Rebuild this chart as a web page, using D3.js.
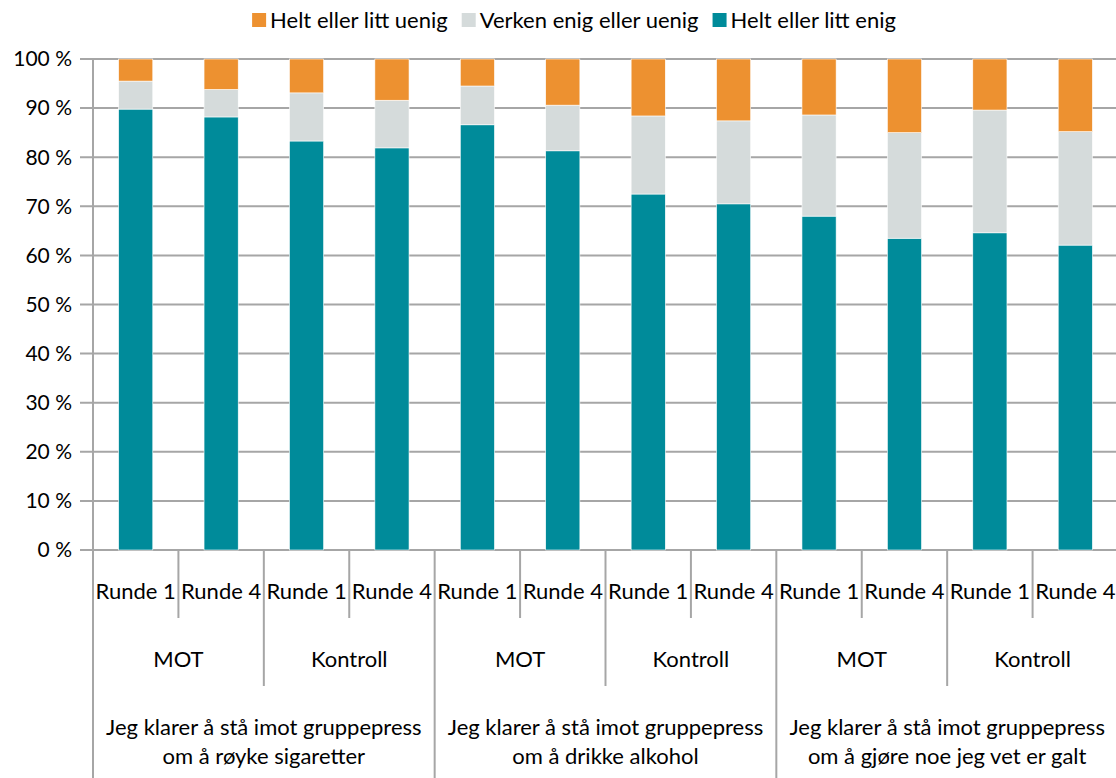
<!DOCTYPE html>
<html>
<head>
<meta charset="utf-8">
<script src="https://cdn.jsdelivr.net/npm/d3@7"></script>
<style>
  body { margin: 0; background: #fff; }
  svg { display: block; font-family: Lato, "Open Sans", sans-serif; }
</style>
</head>
<body>
<div id="chart"></div>
<script>
const rounds = ["Runde 1", "Runde 4", "Runde 1", "Runde 4", "Runde 1", "Runde 4",
                "Runde 1", "Runde 4", "Runde 1", "Runde 4", "Runde 1", "Runde 4"]
const groups = ["MOT", "Kontroll", "MOT", "Kontroll", "MOT", "Kontroll"]
const questions = [
  ["Jeg klarer å stå imot gruppepress", "om å røyke sigaretter"],
  ["Jeg klarer å stå imot gruppepress", "om å drikke alkohol"],
  ["Jeg klarer å stå imot gruppepress", "om å gjøre noe jeg vet er galt"]
]
const seriesNames = ["Helt eller litt enig", "Verken enig eller uenig", "Helt eller litt uenig"]
const enig   = [89.8, 88.2, 83.3, 81.9, 86.6, 81.3, 72.5, 70.5, 68.0, 63.5, 64.6, 62.1]
const verken = [5.7, 5.6, 9.8, 9.7, 7.9, 9.3, 15.9, 16.9, 20.6, 21.5, 25.0, 23.1]
const uenig  = enig.map((d, i) => +(100 - d - verken[i]).toFixed(1))
const yTicks = [0, 10, 20, 30, 40, 50, 60, 70, 80, 90, 100]
const colors = ["#008b9a", "#d5dbdb", "#ed9130"]

const width = 1116
const height = 778
const plotLeft = 93, plotRight = 1118, plotTop = 59, plotBottom = 550
const labelSize = "22px"

const svg = d3.select("#chart").append("svg")
  .attr("width", width)
  .attr("height", height)

const x = d3.scaleBand()
  .domain(d3.range(rounds.length))
  .range([plotLeft, plotRight])
  .paddingInner(0.6)
  .paddingOuter(0.3)

const y = d3.scaleLinear().domain([0, 100]).range([plotBottom, plotTop])

// gridlines
svg.append("g")
  .selectAll("line")
  .data(yTicks)
  .enter()
  .append("line")
  .attr("x1", plotLeft - 13)
  .attr("x2", plotRight)
  .attr("y1", d => y(d))
  .attr("y2", d => y(d))
  .style("stroke", "#a6a6a6")
  .style("stroke-width", 2)

// y labels
svg.append("g")
  .selectAll("text")
  .data(yTicks)
  .enter()
  .append("text")
  .attr("x", 72)
  .attr("y", d => y(d))
  .attr("dy", "0.35em")
  .attr("text-anchor", "end")
  .style("font-size", "21px")
  .style("fill", "#000")
  .text(d => d + "\u00a0%")

// stacked bars
const rows = rounds.map((r, i) => ({ i: i, enig: enig[i], verken: verken[i], uenig: uenig[i] }))
const stack = d3.stack().keys(["enig", "verken", "uenig"])(rows)

svg.append("g")
  .selectAll("g")
  .data(stack)
  .enter()
  .append("g")
  .attr("fill", (d, k) => colors[k])
  .selectAll("rect")
  .data(d => d)
  .enter()
  .append("rect")
  .attr("x", d => x(d.data.i))
  .attr("width", x.bandwidth())
  .attr("y", d => y(d[1]))
  .attr("height", d => y(d[0]) - y(d[1]))
  .style("stroke", "#fff")
  .style("stroke-width", 0.6)

// axis lines
const step = x.step()
const boundary = i => plotLeft + i * step
const axisG = svg.append("g").style("stroke", "#a6a6a6").style("stroke-width", 2)
axisG.append("line").attr("x1", plotLeft).attr("x2", plotLeft).attr("y1", plotTop).attr("y2", height)

d3.range(1, rounds.length + 1).forEach(i => {
  let y2 = 618
  if (i % 4 === 0) y2 = height
  else if (i % 2 === 0) y2 = 686
  axisG.append("line")
    .attr("x1", boundary(i)).attr("x2", boundary(i))
    .attr("y1", plotBottom).attr("y2", y2)
})

// category labels
svg.append("g")
  .selectAll("text")
  .data(rounds)
  .enter()
  .append("text")
  .attr("x", (d, i) => x(i) + x.bandwidth() / 2)
  .attr("y", 599)
  .attr("text-anchor", "middle")
  .style("font-size", labelSize)
  .text(d => d)

svg.append("g")
  .selectAll("text")
  .data(groups)
  .enter()
  .append("text")
  .attr("x", (d, i) => boundary(i * 2 + 1))
  .attr("y", 667)
  .attr("text-anchor", "middle")
  .style("font-size", labelSize)
  .text(d => d)

const qG = svg.append("g")
questions.forEach((q, i) => {
  q.forEach((line, j) => {
    qG.append("text")
      .attr("x", boundary(i * 4 + 2))
      .attr("y", 735 + j * 29)
      .attr("text-anchor", "middle")
      .style("font-size", labelSize)
      .text(line)
  })
})

// legend
const legendOrder = [2, 1, 0]
const legend = svg.append("g")
let lx = 0
legendOrder.forEach(k => {
  const item = legend.append("g").attr("transform", `translate(${lx},0)`)
  item.append("rect").attr("x", 0).attr("y", 13).attr("width", 14).attr("height", 14).attr("fill", colors[k])
  const t = item.append("text").attr("x", 18).attr("y", 20).attr("dy", "0.35em")
    .style("font-size", labelSize).text(seriesNames[k])
  lx += 18 + t.node().getComputedTextLength() + 14
})
const lw = lx - 14
legend.attr("transform", `translate(${574 - lw / 2},0)`)
</script>
</body>
</html>
